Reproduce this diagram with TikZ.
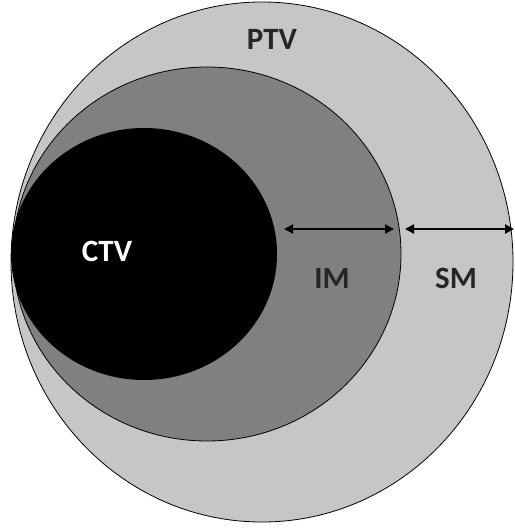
\documentclass[tikz,border=0pt]{standalone}
\usepackage{fontspec}
\setmainfont{Carlito}
\usetikzlibrary{arrows.meta}
\definecolor{ptvgray}{HTML}{C6C6C6}
\definecolor{imgray}{HTML}{808080}
\definecolor{labelink}{HTML}{262626}
\begin{document}
\begin{tikzpicture}[x=1pt,y=-1pt,
  region/.style={draw=black, line width=0.8pt},
  lbl/.style={font=\fontsize{31}{36}\selectfont\bfseries, text=labelink, inner sep=0pt},
  margin/.style={line width=2pt, {Triangle[length=9pt,width=9pt]}-{Triangle[length=9pt,width=9pt]}}]
  \useasboundingbox (0,0) rectangle (514,532);
  \fill[white] (0,0) rectangle (514,532);
  % planning target volume
  \draw[region, fill=ptvgray] (262,262) ellipse [x radius=251, y radius=260];
  % internal margin volume
  \draw[region, fill=imgray] (207,254) ellipse [x radius=194, y radius=187];
  % clinical target volume
  \fill[black] (144,254) ellipse [x radius=133, y radius=126];
  % margin arrows
  \coordinate (ima) at (284,229);
  \coordinate (imb) at (394,229);
  \coordinate (sma) at (405,229);
  \coordinate (smb) at (514,229);
  \draw[margin] (ima) -- (imb);
  \draw[margin] (sma) -- (smb);
  % labels
  \node[lbl] (ptv) at (272,39) {PTV};
  \node[lbl, text=white] (ctv) at (107,251) {CTV};
  \node[lbl] (im) at (332,278) {IM};
  \node[lbl] (sm) at (456,278) {SM};
\end{tikzpicture}
\end{document}
